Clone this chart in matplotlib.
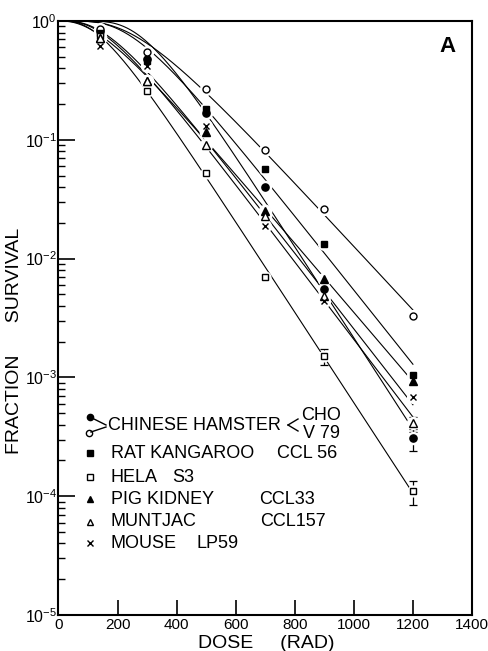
import numpy as np
import matplotlib.pyplot as plt
from matplotlib.transforms import ScaledTranslation

plt.rcParams['font.family'] = ['Liberation Sans', 'DejaVu Sans']
plt.rcParams['mathtext.fontset'] = 'custom'
plt.rcParams['mathtext.rm'] = 'Liberation Sans'

# dose in rad, surviving fraction per cell line
dose = np.array([0, 140, 300, 500, 700, 900, 1200])
cho = [1.0, 0.82, 0.48, 0.168, 0.040, 0.0055, 0.00031]
v79 = [1.0, 0.85, 0.55, 0.267, 0.082, 0.026, 0.0033]
rat_kangaroo = [1.0, 0.80, 0.46, 0.18, 0.057, 0.0133, 0.00105]
hela = [1.0, 0.75, 0.26, 0.053, 0.0070, 0.0015, 0.00011]
pig_kidney = [1.0, 0.72, 0.31, 0.117, 0.025, 0.0067, 0.00093]
muntjac = [1.0, 0.72, 0.31, 0.091, 0.0227, 0.0048, 0.00041]
mouse = [1.0, 0.62, 0.42, 0.13, 0.0188, 0.0044, 0.00069]

# error bars: dose, value, low, high
err_points = [
    (900, 0.0015, 0.00126, 0.00173),
    (1200, 0.00011, 0.000084, 0.000135),
    (1200, 0.00031, 0.00024, 0.00037),
    (1200, 0.00041, 0.00035, 0.00046),
]

series = [
    (cho, 'o', 'black', 5.2),
    (v79, 'o', 'white', 5.0),
    (rat_kangaroo, 's', 'black', 4.8),
    (hela, 's', 'white', 4.2),
    (pig_kidney, '^', 'black', 5.4),
    (muntjac, '^', 'white', 5.2),
    (mouse, 'x', 'black', 5.0),
]

W, H = 489, 651
fig = plt.figure(figsize=(W / 100, H / 100), dpi=100)
ax = fig.add_axes([58.5 / W, 1 - 615 / H, (472 - 58.5) / W, (615 - 21) / H])


def px(x, y):
    return x / W, 1 - y / H


def multitarget(d, d0, n):
    return 1 - (1 - np.exp(-d / d0)) ** n


# multi-target fit (grid search on D0, n) for each survival curve
d0_grid = np.arange(40, 400, 1.0)[:, None, None]
n_grid = np.arange(1.0, 30.0, 0.05)[None, :, None]
grid = np.linspace(0, 1200, 300)
for vals, mk, fc, ms in series:
    d = dose[1:].astype(float)[None, None, :]
    model = np.log10(np.clip(multitarget(d, d0_grid, n_grid), 1e-12, None))
    sse = ((model - np.log10(vals[1:])[None, None, :]) ** 2).sum(axis=2)
    i, j = np.unravel_index(np.argmin(sse), sse.shape)
    curve = multitarget(grid, d0_grid[i, 0, 0], n_grid[0, j, 0])
    ax.plot(grid, curve, color='black', lw=0.8, zorder=2)

for d, v, lo, hi in err_points:
    ax.errorbar([d], [v], yerr=[[v - lo], [hi - v]], fmt='none', ecolor='black',
                elinewidth=0.9, capsize=3, capthick=0.9, zorder=3)

for vals, mk, fc, ms in series:
    # white halo so the curves stop short of each symbol
    ax.plot(dose[1:], vals[1:], ls='none', marker='o', ms=ms + 3.5, mfc='white',
            mec='white', zorder=4)
for vals, mk, fc, ms in series:
    ax.plot(dose[1:], vals[1:], ls='none', marker=mk, ms=ms, mfc=fc, mec='black',
            mew=1.0, zorder=5)

ax.set_yscale('log')
ax.set_xlim(0, 1400)
ax.set_ylim(1e-5, 1)
ax.set_xticks(range(0, 1401, 200))
ax.set_xticklabels([str(v) for v in range(0, 1401, 200)], fontsize=11)
last = ax.get_xticklabels()[-1]
last.set_transform(last.get_transform() + ScaledTranslation(-4 / 100, 2 / 100,
                                                            fig.dpi_scale_trans))
first = ax.get_xticklabels()[0]
first.set_transform(first.get_transform() + ScaledTranslation(3 / 100, 0,
                                                              fig.dpi_scale_trans))
ax.set_yticks([10.0 ** -k for k in range(6)])
ax.set_yticklabels([r'$10^{%d}$' % -k if k else r'$10^{0}$' for k in range(6)],
                   fontsize=11.5)
ax.tick_params(axis='x', direction='in', length=11, width=1.2, pad=2)
ax.tick_params(axis='y', which='major', direction='in', length=12, width=1.2, pad=1)
ax.tick_params(axis='y', which='minor', direction='in', length=5, width=1.0)
ax.tick_params(top=False, right=False)
for sp in ax.spines.values():
    sp.set_linewidth(1.5)

fig.text(*px(448, 47), 'A', fontsize=16, fontweight='bold', ha='center', va='center')
fig.text(*px(266, 644), 'DOSE     (RAD)', fontsize=14, ha='center', va='center')
fig.text(*px(15, 341), 'FRACTION      SURVIVAL', fontsize=14, ha='center',
         va='center', rotation=90)

# legend block
legend_rows = [
    ('RAT KANGAROO', 'CCL 56', 277, 453, 's', 'black'),
    ('HELA', 'S3', 172, 477, 's', 'white'),
    ('PIG KIDNEY', 'CCL33', 259, 499, '^', 'black'),
    ('MUNTJAC', 'CCL157', 260, 522, '^', 'white'),
    ('MOUSE', 'LP59', 197, 543, 'x', 'black'),
]
fs = 13
for name, line_id, x2, y, mk, fc in legend_rows:
    fig.add_artist(plt.Line2D([px(90, y)[0]], [px(90, y)[1]], marker=mk, ms=4.5,
                              mfc=fc, mec='black', mew=1.0, ls='none'))
    fig.text(*px(111, y), name, fontsize=fs, va='center', ha='left')
    fig.text(*px(x2, y), line_id, fontsize=fs, va='center', ha='left')

fig.add_artist(plt.Line2D([px(90, 417)[0]], [px(90, 417)[1]], marker='o', ms=4.5,
                          mfc='black', mec='black', ls='none'))
fig.add_artist(plt.Line2D([px(89, 433)[0]], [px(89, 433)[1]], marker='o', ms=4.5,
                          mfc='white', mec='black', mew=1.0, ls='none'))
for (x0, y0), (x1, y1) in [((92, 418), (106, 425)), ((91, 432), (106, 427)),
                           ((288, 425), (298, 419)), ((288, 425), (298, 431))]:
    a, b = px(x0, y0), px(x1, y1)
    fig.add_artist(plt.Line2D([a[0], b[0]], [a[1], b[1]], color='black', lw=1.0))
fig.text(*px(108, 425), 'CHINESE HAMSTER', fontsize=fs, va='center', ha='left')
fig.text(*px(301, 415), 'CHO', fontsize=fs, va='center', ha='left')
fig.text(*px(303, 434), 'V 79', fontsize=fs, va='center', ha='left')

fig.savefig('out.png', dpi=100)
